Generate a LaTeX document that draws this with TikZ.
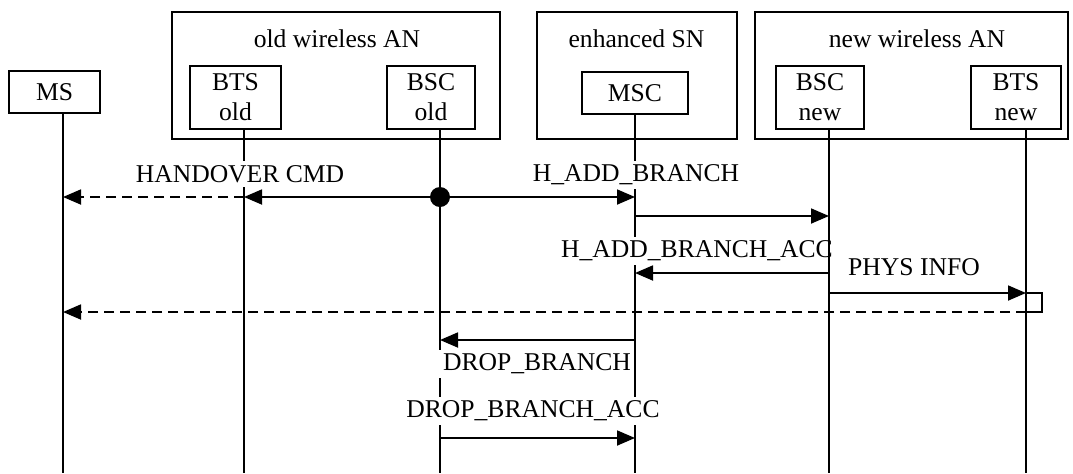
\documentclass[tikz,border=0pt]{standalone}
\usepackage{fontspec}
\setmainfont{Liberation Serif}
\usetikzlibrary{arrows.meta}
\begin{document}
\begin{tikzpicture}[x=0.5pt,y=-0.5pt,
  every node/.style={font=\fontsize{12.8pt}{15pt}\selectfont, text=black},
  box/.style={draw, line width=0.9pt, rectangle, inner sep=0pt, align=center},
  grp/.style={draw, line width=0.9pt, rectangle, inner sep=0pt},
  life/.style={line width=0.9pt},
  msg/.style={line width=0.9pt, -{Triangle[length=9pt,width=7.5pt]}},
  dmsg/.style={msg, dash pattern=on 5pt off 3pt},
  lbl/.style={fill=white, inner xsep=1pt, inner ysep=2pt}
]
\useasboundingbox (0,0) rectangle (1073,473);

% network groups
\node[grp, minimum width=164pt, minimum height=63.5pt] (gOld) at (336,75.5) {};
\node (tOld) at (337,39) {old wireless AN};
\node[grp, minimum width=100pt, minimum height=63.5pt] (gSN) at (637,75.5) {};
\node (tSN) at (636.5,39) {enhanced SN};
\node[grp, minimum width=156.5pt, minimum height=63.5pt] (gNew) at (911.5,75.5) {};
\node (tNew) at (917,39) {new wireless AN};

% entities
\node[box, minimum width=45.5pt, minimum height=21pt] (MS) at (54.5,92) {MS};
\node[box, minimum width=45.5pt, minimum height=31.5pt] (BTSo) at (235.5,97.5) {BTS\\old};
\node[box, minimum width=44pt, minimum height=31.5pt] (BSCo) at (431,97.5) {BSC\\old};
\node[box, minimum width=53pt, minimum height=21pt] (MSC) at (635,93) {MSC};
\node[box, minimum width=44pt, minimum height=31.5pt] (BSCn) at (820,97.5) {BSC\\new};
\node[box, minimum width=45pt, minimum height=31.5pt] (BTSn) at (1016,97.5) {BTS\\new};

% lifeline positions and message rows
\coordinate (xMS) at (63,0);
\coordinate (xBTSo) at (244,0);
\coordinate (xBSCo) at (440,0);
\coordinate (xMSC) at (635,0);
\coordinate (xBSCn) at (829,0);
\coordinate (xBTSn) at (1026,0);
\coordinate (xLoop) at (1042,0);
\coordinate (bot) at (0,473);
\coordinate (r1) at (0,197);
\coordinate (r2) at (0,216);
\coordinate (r3) at (0,273);
\coordinate (r4) at (0,293);
\coordinate (r5) at (0,312);
\coordinate (r6) at (0,340);
\coordinate (r7) at (0,438);

% lifelines
\draw[life] (xMS |- MS.south) -- (xMS |- bot);
\draw[life] (xBTSo |- BTSo.south) -- (xBTSo |- bot);
\draw[life] (xBSCo |- BSCo.south) -- (xBSCo |- bot);
\draw[life] (xMSC |- MSC.south) -- (xMSC |- bot);

% message labels
\node[lbl] (mHO) at (240,174) {HANDOVER CMD};
\node[lbl] (mAdd) at (636,175) {H\_ADD\_BRANCH};
\node[lbl] (mAddAcc) at (697,251) {H\_ADD\_BRANCH\_ACC};
\node[lbl] (mPhys) at (914,267) {PHYS INFO};
\node[lbl] (mDrop) at (531,364) {\hspace*{6pt}DROP\_BRANCH};
\node[lbl] (mDropAcc) at (533,411) {DROP\_BRANCH\_ACC};

\draw[life] (xBSCn |- BSCn.south) -- (xBSCn |- bot);
\draw[life] (xBTSn |- BTSn.south) -- (xBTSn |- bot);

% messages
\draw[dmsg] (xBTSo |- r1) -- (xMS |- r1);
\draw[msg] (xBSCo |- r1) -- (xBTSo |- r1);
\draw[msg] (xBSCo |- r1) -- (xMSC |- r1);
\fill (xBSCo |- r1) circle[radius=5pt];
\draw[msg] (xMSC |- r2) -- (xBSCn |- r2);
\draw[msg] (xBSCn |- r3) -- (xMSC |- r3);
\draw[msg] (xBSCn |- r4) -- (xBTSn |- r4);
\draw[line width=0.9pt] (xBTSn |- r4) -| (xLoop |- r5) -- (xBTSn |- r5);
\draw[dmsg] (xBTSn |- r5) -- (xMS |- r5);
\draw[msg] (xMSC |- r6) -- (xBSCo |- r6);
\draw[msg] (xBSCo |- r7) -- (xMSC |- r7);
\end{tikzpicture}
\end{document}
